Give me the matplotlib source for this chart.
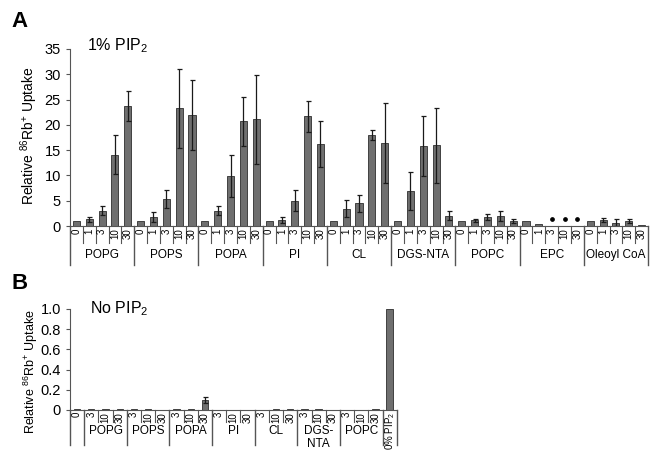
import numpy as np
import matplotlib
matplotlib.use('Agg')
import matplotlib.pyplot as plt

plt.rcParams['font.family'] = ['Liberation Sans', 'DejaVu Sans']
plt.rcParams['mathtext.default'] = 'regular'

# Panel A: 1% PIP2
groupsA = ['POPG', 'POPS', 'POPA', 'PI', 'CL', 'DGS-NTA', 'POPC', 'EPC', 'Oleoyl CoA']
subA = ['0', '1', '3', '10', '30']
valuesA = [1.0, 1.3, 3.0, 14.1, 23.7,
           1.0, 1.8, 5.3, 23.3, 22.0,
           1.0, 3.0, 9.9, 20.7, 21.1,
           1.0, 1.2, 5.0, 21.7, 16.2,
           1.0, 3.4, 4.5, 18.0, 16.4,
           1.0, 6.9, 15.8, 16.0, 2.0,
           1.0, 1.1, 1.8, 2.0, 1.0,
           1.0, 0.4, 0.0, 0.0, 0.0,
           1.0, 1.2, 0.7, 1.0, 0.2]
errorsA = [0.0, 0.5, 0.9, 3.9, 3.0,
           0.0, 1.0, 1.8, 7.8, 6.9,
           0.0, 0.9, 4.2, 4.8, 8.8,
           0.0, 0.5, 2.1, 3.1, 4.5,
           0.0, 1.7, 1.7, 0.9, 7.9,
           0.0, 3.7, 5.9, 7.4, 0.9,
           0.0, 0.35, 0.6, 1.0, 0.3,
           0.0, 0.0, 0.0, 0.0, 0.0,
           0.0, 0.35, 0.65, 0.45, 0.0]
# EPC 3, 10, 30 marked with a dot instead of a bar
dotsA_idx = [37, 38, 39]
dotsA_val = [1.45, 1.45, 1.45]

# Panel B: no PIP2
groupsB = ['', 'POPG', 'POPS', 'POPA', 'PI', 'CL', 'DGS-\nNTA', 'POPC', '']
groupSizeB = [1, 3, 3, 3, 3, 3, 3, 3, 1]
subB = ['0'] + ['3', '10', '30'] * 7 + ['']
valuesB = [0.005,
           0.005, 0.005, 0.005,
           0.005, 0.006, 0.0,
           0.005, 0.006, 0.10,
           0.0, 0.0, 0.0,
           0.0, 0.005, 0.005,
           0.005, 0.008, 0.0,
           0.0, 0.0, 0.005,
           1.0]
errorsB = [0.0] * 9 + [0.03] + [0.0] * 13

barColor = '#6f6f6f'
edgeColor = '#2e2e2e'
lineColor = '#555555'


def drawTable(ax, sizes, groups, subs, shortY, longY, tickY, groupY, small=7, big=8):
    """Draws the label boxes under the x axis"""
    tr = ax.get_xaxis_transform()
    pos = -0.5
    k = 0
    for size, name in zip(sizes, groups):
        ax.plot([pos, pos], [0, longY], color=lineColor, lw=1, transform=tr, clip_on=False)
        for j in range(size):
            x = pos + j + 0.5
            if j > 0:
                ax.plot([x - 0.5, x - 0.5], [0, shortY], color=lineColor, lw=0.8,
                        transform=tr, clip_on=False)
            if subs[k]:
                ax.text(x, tickY, subs[k], rotation=90, ha='center', va='top',
                        fontsize=small, transform=tr)
            k += 1
        if name:
            if '\n' in name:
                # two-line name sits a bit lower, under the tick labels
                ax.text(pos + size / 2.0, shortY - 0.03, name, ha='center', va='top',
                        fontsize=big, transform=tr, linespacing=1.05)
            else:
                ax.text(pos + size / 2.0, groupY, name, ha='center', va='center',
                        fontsize=big, transform=tr)
        pos += size
    ax.plot([pos, pos], [0, longY], color=lineColor, lw=1, transform=tr, clip_on=False)


fig = plt.figure(figsize=(6.51, 4.53), dpi=100)

# ---- panel A
axA = fig.add_axes([0.1075, 0.501, 0.888, 0.391])
xA = np.arange(len(valuesA))
axA.bar(xA, valuesA, width=0.55, color=barColor, edgecolor=edgeColor, linewidth=0.6)
hasErr = np.array(errorsA) > 0
axA.errorbar(xA[hasErr], np.array(valuesA)[hasErr], yerr=np.array(errorsA)[hasErr],
             fmt='none', ecolor='#1a1a1a', elinewidth=0.9, capsize=1.8, capthick=0.9)
axA.plot(dotsA_idx, dotsA_val, 'o', color='black', markersize=2.4)
axA.set_xlim(-0.5, len(valuesA) - 0.5)
axA.set_ylim(0, 35)
axA.set_yticks(np.arange(0, 36, 5))
axA.set_xticks([])
axA.spines['top'].set_visible(False)
axA.spines['right'].set_visible(False)
axA.spines['left'].set_color(lineColor)
axA.spines['bottom'].set_color(lineColor)
axA.tick_params(axis='y', labelsize=10.5, length=3, color=lineColor)
axA.set_ylabel('Relative $^{86}$Rb$^{+}$ Uptake', fontsize=10)
axA.yaxis.set_label_coords(-0.052, 0.51)
drawTable(axA, [5] * len(groupsA), groupsA, subA * len(groupsA),
          -0.097, -0.222, -0.012, -0.163, small=7, big=8.5)
axA.text(0.03, 1.02, '1% PIP$_2$', transform=axA.transAxes, fontsize=11.5,
         ha='left', va='center')
fig.text(0.018, 0.953, 'A', fontsize=16, fontweight='bold', ha='left', va='center')

# ---- panel B
axB = fig.add_axes([0.1075, 0.095, 0.502, 0.223])
xB = np.arange(len(valuesB))
axB.bar(xB, valuesB, width=0.45, color=barColor, edgecolor=edgeColor, linewidth=0.6)
hasErrB = np.array(errorsB) > 0
axB.errorbar(xB[hasErrB], np.array(valuesB)[hasErrB], yerr=np.array(errorsB)[hasErrB],
             fmt='none', ecolor='#1a1a1a', elinewidth=0.9, capsize=1.8, capthick=0.9)
axB.set_xlim(-0.5, len(valuesB) - 0.5)
axB.set_ylim(0, 1.0)
axB.set_yticks([0, 0.2, 0.4, 0.6, 0.8, 1.0])
axB.set_yticklabels(['0', '0.2', '0.4', '0.6', '0.8', '1.0'])
axB.set_xticks([])
axB.spines['top'].set_visible(False)
axB.spines['right'].set_visible(False)
axB.spines['left'].set_color(lineColor)
axB.spines['bottom'].set_color(lineColor)
axB.tick_params(axis='y', labelsize=10.5, length=3, color=lineColor)
axB.set_ylabel('Relative $^{86}$Rb$^{+}$ Uptake', fontsize=9)
axB.yaxis.set_label_coords(-0.092, 0.376)
drawTable(axB, groupSizeB, groupsB, subB,
          -0.12, -0.35, -0.02, -0.21, small=7, big=8.5)
axB.text(len(valuesB) - 1, -0.02, '0% PIP$_2$', rotation=90, ha='center', va='top',
         fontsize=7, transform=axB.get_xaxis_transform())
axB.text(0.06, 1.0, 'No PIP$_2$', transform=axB.transAxes, fontsize=11.5,
         ha='left', va='center')
fig.text(0.018, 0.375, 'B', fontsize=16, fontweight='bold', ha='left', va='center')

fig.savefig('out.png', dpi=100)
